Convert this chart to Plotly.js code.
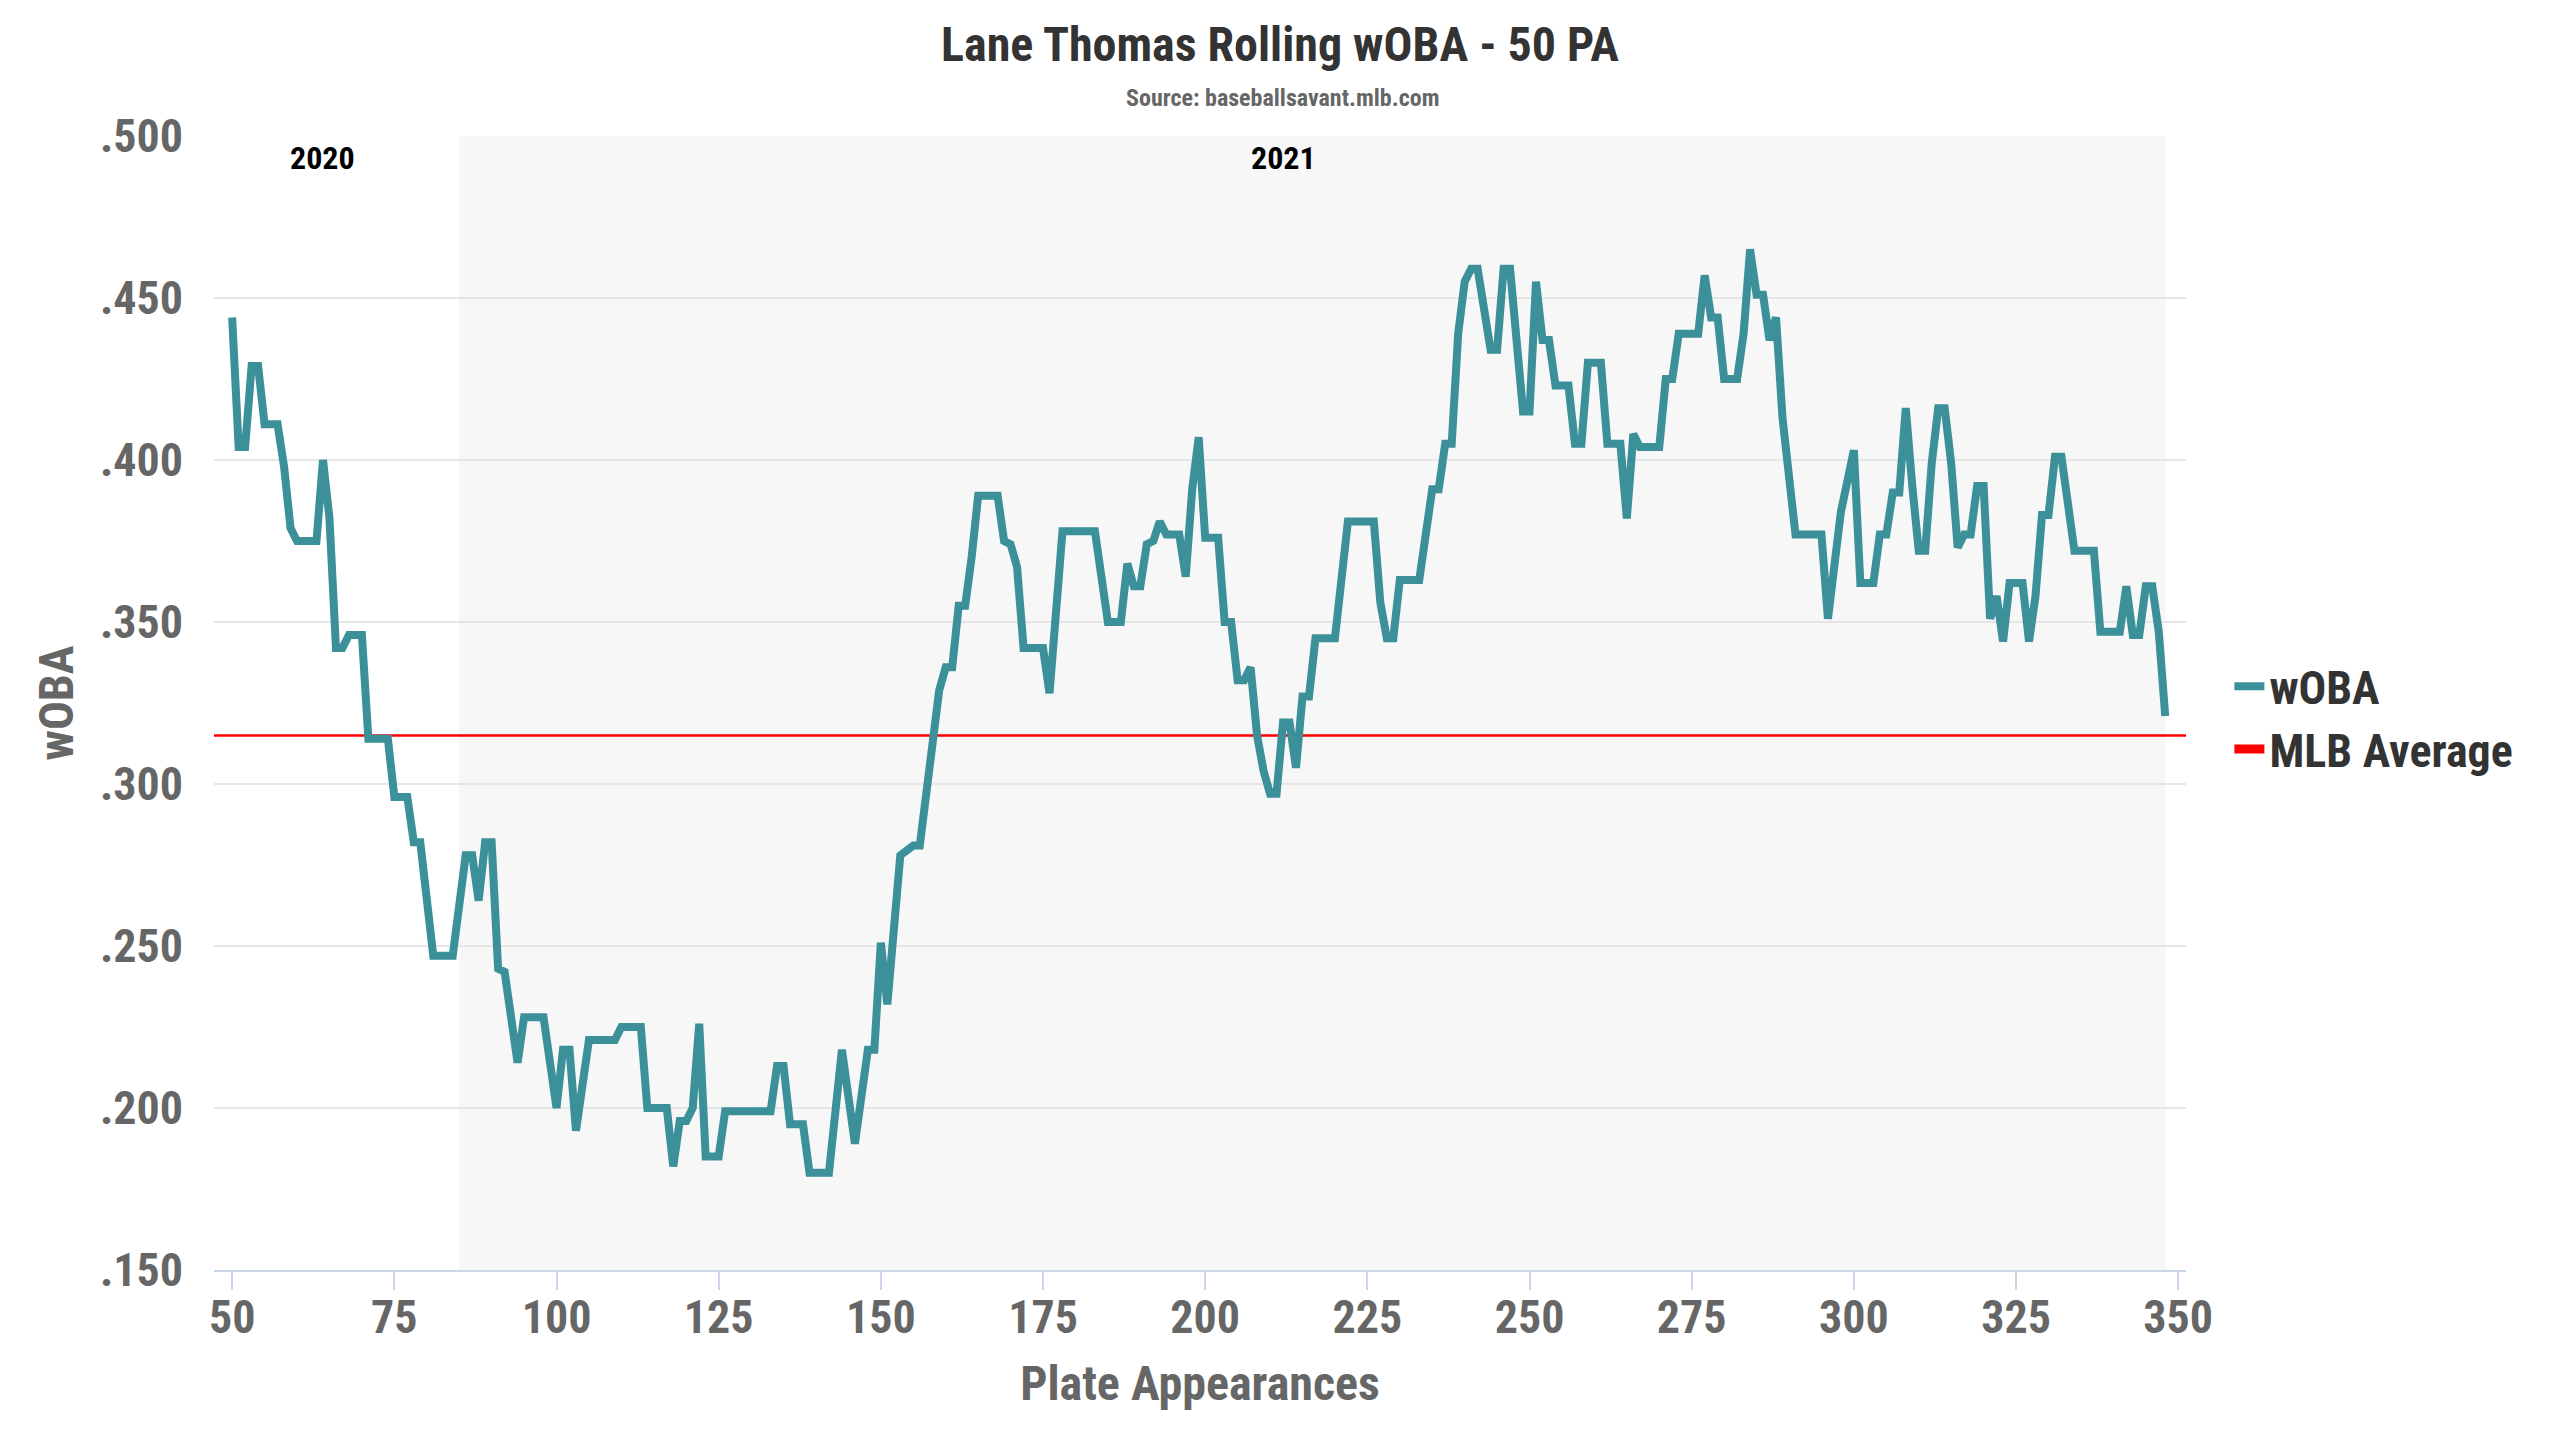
<!DOCTYPE html>
<html>
<head>
<meta charset="utf-8">
<script src="https://cdn.plot.ly/plotly-3.0.1.min.js"></script>
<style>
  html, body { margin: 0; padding: 0; background: #fff; }
  #chart { width: 2560px; height: 1440px; }
</style>
</head>
<body>
<div id="chart"></div>
<script>
// rolling 50 PA wOBA (turning points)
const plateAppearances = [
  50, 51, 52, 53, 54, 55, 57, 58, 59, 60, 63, 64, 65, 66, 67, 68, 70, 71, 74, 75,
  77, 78, 79, 81, 84, 85, 86, 87, 88, 89, 90, 91, 92, 94, 95, 98, 100, 101, 102, 103,
  105, 109, 110, 113, 114, 117, 118, 119, 120, 121, 122, 123, 125, 126, 133, 134, 135, 136, 138, 139,
  142, 144, 146, 148, 149, 150, 151, 153, 155, 156, 158, 159, 160, 161, 162, 163, 164, 165, 168, 169,
  170, 171, 172, 175, 176, 178, 183, 185, 187, 188, 189, 190, 191, 192, 193, 194, 196, 197, 198, 199,
  200, 202, 203, 204, 205, 206, 207, 208, 209, 210, 211, 212, 213, 214, 215, 216, 217, 220, 222, 226,
  227, 228, 229, 230, 233, 235, 236, 237, 238, 239, 240, 241, 242, 243, 244, 245, 246, 247, 248, 249,
  250, 251, 252, 253, 254, 256, 257, 258, 259, 261, 262, 264, 265, 266, 267, 270, 271, 272, 273, 276,
  277, 278, 279, 280, 282, 283, 284, 285, 286, 287, 288, 289, 291, 295, 296, 297, 298, 300, 301, 303,
  304, 305, 306, 307, 308, 309, 310, 311, 312, 313, 314, 315, 316, 317, 318, 319, 320, 321, 322, 323,
  324, 326, 327, 328, 329, 330, 331, 332, 333, 334, 337, 338, 341, 342, 343, 344, 345, 346, 347, 348
];
const wobaValues = [
  .444, .404, .404, .429, .429, .411, .411, .398, .379, .375, .375, .400, .382, .342, .342, .346, .346, .314, .314, .296,
  .296, .282, .282, .247, .247, .261, .278, .278, .264, .282, .282, .243, .242, .214, .228, .228, .200, .218, .218, .193,
  .221, .221, .225, .225, .200, .200, .182, .196, .196, .200, .226, .185, .185, .199, .199, .213, .213, .195, .195, .180,
  .180, .218, .189, .218, .218, .251, .232, .278, .281, .281, .311, .329, .336, .336, .355, .355, .370, .389, .389, .375,
  .374, .367, .342, .342, .328, .378, .378, .350, .350, .368, .361, .361, .374, .375, .381, .377, .377, .364, .391, .407,
  .376, .376, .350, .350, .332, .332, .336, .315, .304, .297, .297, .319, .319, .305, .327, .327, .345, .345, .381, .381,
  .356, .345, .345, .363, .363, .391, .391, .405, .405, .439, .455, .459, .459, .447, .434, .434, .459, .459, .434, .415,
  .415, .455, .437, .437, .423, .423, .405, .405, .430, .430, .405, .405, .382, .408, .404, .404, .425, .425, .439, .439,
  .457, .444, .444, .425, .425, .439, .465, .451, .451, .437, .444, .413, .377, .377, .351, .366, .384, .403, .362, .362,
  .377, .377, .390, .390, .416, .392, .372, .372, .399, .416, .416, .399, .373, .377, .377, .392, .392, .351, .358, .344,
  .362, .362, .344, .358, .383, .383, .401, .401, .386, .372, .372, .347, .347, .361, .346, .346, .361, .361, .347, .321
];

const mlbAverage = 0.315;
const season2021Start = 85;
const season2021End = 348;
const xRange = [47.2, 351.2];
const yRange = [0.15, 0.5];

const xTickVals = [50, 75, 100, 125, 150, 175, 200, 225, 250, 275, 300, 325, 350];
const yTickVals = [0.15, 0.2, 0.25, 0.3, 0.35, 0.4, 0.45, 0.5];
const yTickText = ['.150', '.200', '.250', '.300', '.350', '.400', '.450', '.500'];

const seasonLabels = ['2020', '2021'];
const seasonLabelX = [64, 212];

const FONT = '"Roboto Condensed", "Liberation Sans Narrow", "DejaVu Sans Condensed", Roboto, sans-serif';
const TEAL = '#3b9099';

const traces = [
  // MLB average line (legend handled by the dummy trace below)
  { x: xRange, y: [mlbAverage, mlbAverage], type: 'scatter', mode: 'lines', showlegend: false,
    line: { color: '#ff0000', width: 2.5 }, hoverinfo: 'skip' },
  { x: plateAppearances, y: wobaValues, name: 'wOBA', type: 'scatter', mode: 'lines',
    line: { color: TEAL, width: 8, shape: 'linear' }, legendrank: 1 },
  { x: [null], y: [null], name: 'MLB Average', type: 'scatter', mode: 'lines',
    line: { color: '#ff0000', width: 9 }, legendrank: 2 }
];

const layout = {
  width: 2560, height: 1440,
  paper_bgcolor: '#ffffff', plot_bgcolor: '#ffffff',
  font: { family: FONT, color: '#333333' },
  margin: { l: 214, r: 374, t: 136, b: 170 },
  title: {
    text: 'Lane Thomas Rolling wOBA - 50 PA',
    font: { family: FONT, size: 48, color: '#333333', weight: 'bold' },
    x: 0.5, xref: 'container', xanchor: 'center',
    y: 1 - 44 / 1440, yref: 'container', yanchor: 'middle'
  },
  showlegend: true,
  legend: {
    x: 1.022, xanchor: 'left', y: 0.487, yanchor: 'middle',
    font: { family: FONT, size: 46, color: '#333333', weight: 'bold' },
    bgcolor: 'rgba(0,0,0,0)', borderwidth: 0, itemwidth: 30
  },
  xaxis: {
    range: xRange, tickvals: xTickVals, showgrid: false, zeroline: false,
    showline: true, linecolor: '#ccd6eb', linewidth: 2,
    ticks: 'outside', ticklen: 18, tickwidth: 2, tickcolor: '#ccd6eb',
    ticklabelstandoff: -12,
    tickfont: { family: FONT, size: 46, color: '#666666', weight: 'bold' },
    title: { text: 'Plate Appearances', standoff: 23,
             font: { family: FONT, size: 48, color: '#666666', weight: 'bold' } }
  },
  yaxis: {
    range: yRange, tickvals: yTickVals, ticktext: yTickText,
    showgrid: true, gridcolor: '#e6e6e6', gridwidth: 2, zeroline: false, showline: false,
    ticks: '', ticklabelstandoff: 30,
    tickfont: { family: FONT, size: 46, color: '#666666', weight: 'bold' },
    title: { text: 'wOBA', standoff: 11,
             font: { family: FONT, size: 48, color: '#666666', weight: 'bold' } }
  },
  shapes: [
    { type: 'rect', xref: 'x', yref: 'paper', x0: season2021Start, x1: season2021End, y0: 0, y1: 1,
      fillcolor: '#f7f7f7', line: { width: 0 }, layer: 'below' }
  ],
  annotations: [
    { text: 'Source: baseballsavant.mlb.com', xref: 'paper', yref: 'paper',
      x: 0.542, y: 1.0335, xanchor: 'center', yanchor: 'middle', showarrow: false,
      font: { family: FONT, size: 24, color: '#666666', weight: 'bold' } },
    ...seasonLabels.map((label, i) => ({
      text: label, xref: 'x', yref: 'paper', x: seasonLabelX[i], y: 0.981,
      xanchor: 'center', yanchor: 'middle', showarrow: false,
      font: { family: FONT, size: 32, color: '#000000', weight: 'bold' }
    }))
  ]
};

Plotly.newPlot('chart', traces, layout, { staticPlot: true, displayModeBar: false });
</script>
</body>
</html>
